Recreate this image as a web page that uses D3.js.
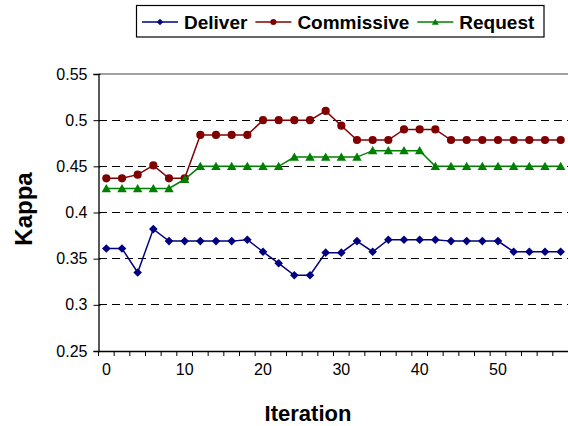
<!DOCTYPE html>
<html>
<head>
<meta charset="utf-8">
<script src="https://cdn.jsdelivr.net/npm/d3@7"></script>
<style>
  html, body { margin: 0; padding: 0; background: #fff; }
  svg { display: block; font-family: "Liberation Sans", Arial, sans-serif; }
</style>
</head>
<body>
<svg id="chart" width="568" height="426"></svg>
<script>
const iterations = [0,2,4,6,8,10,12,14,16,18,20,22,24,26,28,30,32,34,36,38,40,42,44,46,48,50,52,54,56,58];
const xTickLabels = [0,10,20,30,40,50];
const yTicks = [0.25,0.3,0.35,0.4,0.45,0.5,0.55];
const deliver = [0.361,0.361,0.335,0.382,0.369,0.369,0.369,0.369,0.369,0.3705,0.3575,0.345,0.332,0.332,0.3565,0.3565,0.369,0.3575,0.3705,0.3705,0.3705,0.3705,0.369,0.369,0.369,0.369,0.3575,0.3575,0.3575,0.3575];
const commissive = [0.437,0.437,0.441,0.451,0.437,0.437,0.484,0.484,0.484,0.484,0.500,0.500,0.500,0.500,0.510,0.494,0.4785,0.4785,0.4785,0.490,0.490,0.490,0.4785,0.4785,0.4785,0.4785,0.4785,0.4785,0.4785,0.4785];
const request = [0.426,0.426,0.426,0.426,0.426,0.436,0.450,0.450,0.450,0.450,0.450,0.450,0.460,0.460,0.460,0.460,0.460,0.467,0.467,0.467,0.467,0.450,0.450,0.450,0.450,0.450,0.450,0.450,0.450,0.450];
const seriesNames = ["Deliver","Commissive","Request"];
const seriesColors = ["#000080","#800000","#008000"];
const seriesMarkers = ["diamond","circle","triangle"];

(function () {
const svg = d3.select("#chart");
const pLeft = 98.5, pRight = 568.5, pTop = 74, pBottom = 351;

const x = d3.scaleBand().domain(iterations).range([pLeft, pRight]);
const y = d3.scaleLinear().domain([0.25, 0.55]).range([pBottom, pTop]);
const cx = d => x(d) + x.bandwidth() / 2;

// gridlines
svg.append("g").selectAll("line").data(yTicks.filter(t => t > 0.25 && t < 0.55)).join("line")
  .attr("x1", pLeft).attr("x2", 568).attr("y1", d => y(d)).attr("y2", d => y(d))
  .attr("stroke", "#000").attr("stroke-width", 1).attr("stroke-dasharray", "8,5")
  .attr("shape-rendering", "crispEdges");
svg.append("line").attr("x1", pLeft).attr("x2", 568).attr("y1", y(0.55)).attr("y2", y(0.55))
  .attr("stroke", "#444").attr("stroke-width", 1.2);

// y axis
const yAxis = d3.axisLeft(y).tickValues(yTicks).tickFormat(d => String(d)).tickSize(5).tickPadding(6);
const gy = svg.append("g").attr("transform", `translate(${pLeft},0)`).call(yAxis);
gy.select(".domain").attr("stroke", "#000").attr("stroke-width", 1.3);
gy.selectAll(".tick line").attr("stroke", "#000").attr("x2", -5).attr("x1", 2);
gy.selectAll(".tick text").attr("font-size", 16).attr("fill", "#000")
  .attr("font-family", "Liberation Sans, Arial, sans-serif");

// x axis: ticks at category boundaries
const xAxis = d3.axisBottom(x).tickSize(0).tickFormat(d => xTickLabels.includes(d) ? String(d) : "").tickPadding(13);
const gx = svg.append("g").attr("transform", `translate(0,${pBottom})`).call(xAxis);
gx.select(".domain").attr("stroke", "#000").attr("stroke-width", 1.3);
gx.selectAll(".tick text").attr("font-size", 16).attr("fill", "#000")
  .attr("font-family", "Liberation Sans, Arial, sans-serif");
gx.append("g").selectAll("line").data(iterations).join("line")
  .attr("x1", d => x(d)).attr("x2", d => x(d)).attr("y1", 0).attr("y2", 5)
  .attr("stroke", "#000").attr("stroke-width", 1);

// axis titles
svg.append("text").attr("x", 308).attr("y", 421).attr("text-anchor", "middle")
  .attr("font-size", 22).attr("font-weight", "bold").text("Iteration");
svg.append("text").attr("transform", "translate(32,209) rotate(-90)").attr("text-anchor", "middle")
  .attr("font-size", 24).attr("font-weight", "bold").text("Kappa");

function marker(g, type, color, s) {
  if (type === "diamond") {
    g.append("path").attr("d", `M0,${-s}L${s},0L0,${s}L${-s},0Z`).attr("fill", color);
  } else if (type === "circle") {
    g.append("circle").attr("r", s * 0.95).attr("fill", color);
  } else {
    g.append("path").attr("d", `M0,${-s * 1.05}L${s * 1.1},${s * 0.85}L${-s * 1.1},${s * 0.85}Z`).attr("fill", color);
  }
}

const seriesData = [deliver, commissive, request];
seriesData.forEach((vals, i) => {
  const pts = iterations.map((it, j) => [cx(it), y(vals[j])]);
  svg.append("path").attr("d", d3.line()(pts)).attr("fill", "none")
    .attr("stroke", seriesColors[i]).attr("stroke-width", 1.5);
  const g = svg.append("g");
  pts.forEach(p => {
    const m = g.append("g").attr("transform", `translate(${p[0]},${p[1]})`);
    marker(m, seriesMarkers[i], seriesColors[i], 4.3);
  });
});

// legend
const lg = svg.append("g");
lg.append("rect").attr("x", 136.5).attr("y", 5.5).attr("width", 407.5).attr("height", 31.5)
  .attr("fill", "#fff").attr("stroke", "#000").attr("stroke-width", 1.2);
let lx = 142;
const ly = 22;
seriesNames.forEach((name, i) => {
  lg.append("line").attr("x1", lx).attr("x2", lx + 36).attr("y1", ly).attr("y2", ly)
    .attr("stroke", seriesColors[i]).attr("stroke-width", 1.3);
  const m = lg.append("g").attr("transform", `translate(${lx + 18},${ly})`);
  marker(m, seriesMarkers[i], seriesColors[i], 3.2);
  const t = lg.append("text").attr("x", lx + 42).attr("y", ly + 7).attr("font-size", 19)
    .attr("font-weight", "bold").attr("fill", "#000").text(name);
  lx = lx + 42 + t.node().getComputedTextLength() + 8;
});
})();
</script>
</body>
</html>
